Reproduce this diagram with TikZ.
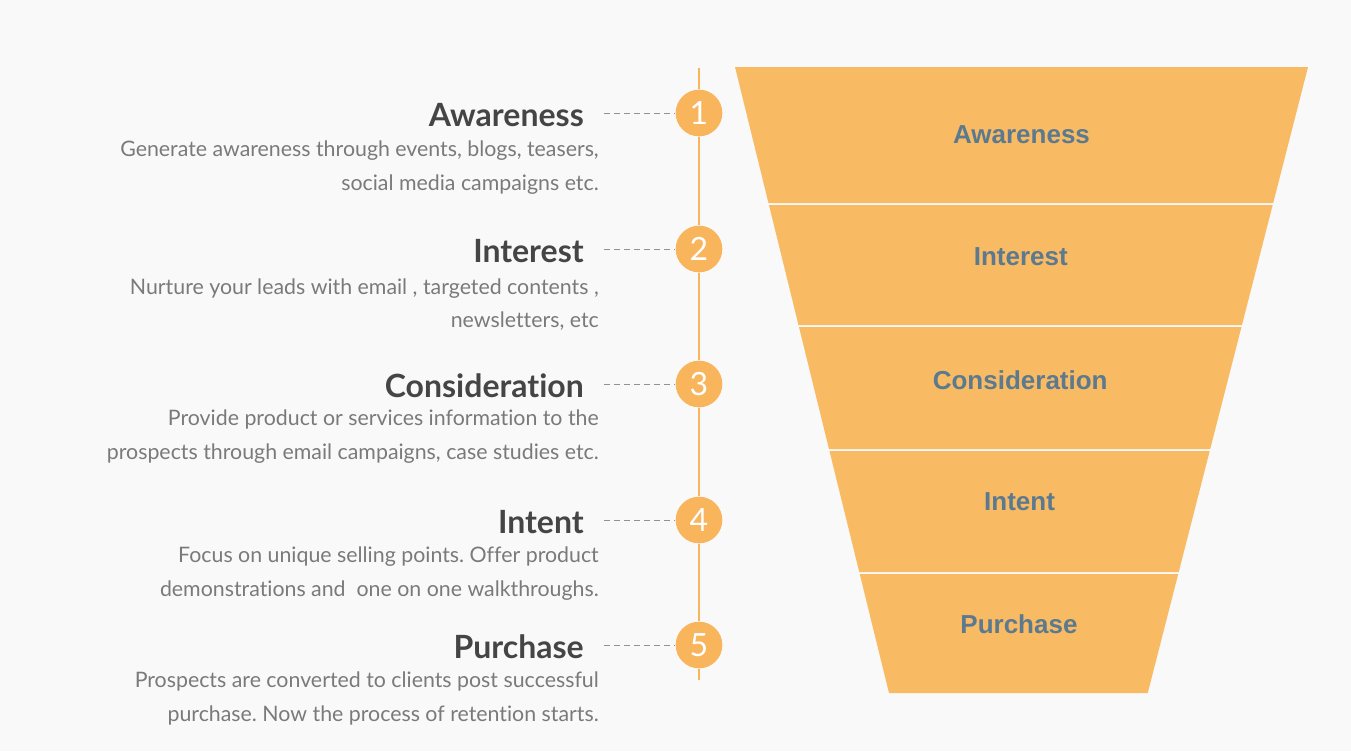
\documentclass[tikz,border=0pt]{standalone}
\usepackage{fontspec}
\setmainfont{Lato}[Ligatures=NoCommon]
\newfontfamily\funnelfont{Liberation Sans}
\usetikzlibrary{positioning}
\definecolor{bgGray}{HTML}{F9F9F9}
\definecolor{fOrange}{HTML}{F9BA64}
\definecolor{cOrange}{HTML}{F8B55C}
\definecolor{tDark}{HTML}{454545}
\definecolor{tGray}{HTML}{7A7A7A}
\definecolor{fSlate}{HTML}{5B7A8F}
\frenchspacing

\begin{document}
\begin{tikzpicture}[x=0.75pt, y=-0.75pt,
    stagetitle/.style={anchor=east, inner sep=0pt, text=tDark, font=\fontsize{24}{28}\selectfont\bfseries},
    stagedesc/.style={anchor=base east, inner sep=0pt, text=tGray, font=\fontsize{16}{18}\selectfont},
    numcirc/.style={circle, fill=cOrange, minimum size=35pt, inner sep=0pt, text=white, font=\fontsize{24}{26}\selectfont},
    funnellbl/.style={text=fSlate, font=\funnelfont\fontsize{19.5}{22}\selectfont\bfseries},
    dashline/.style={gray!85, line width=0.75pt, dash pattern=on 4.5pt off 3pt},
    vline/.style={cOrange, line width=1.5pt}]
    \fill[bgGray] (0,0) rectangle (1351,751);
    \useasboundingbox (0,0) rectangle (1351,751);
    % funnel
    \foreach \lbl/\ya/\yb/\yl [count=\i] in {Awareness/67/203/135, Interest/205/325/257, Consideration/327/449/380, Intent/451/572/502, Purchase/574/693/624} {
      \pgfmathsetmacro\la{735+0.246*(\ya-67)}
      \pgfmathsetmacro\ra{1308-0.256*(\ya-67)}
      \pgfmathsetmacro\lb{735+0.246*(\yb-67)}
      \pgfmathsetmacro\rb{1308-0.256*(\yb-67)}
      \fill[fOrange] (\la,\ya) -- (\ra,\ya) -- (\rb,\yb) -- (\lb,\yb) -- cycle;
      \node[funnellbl] (f\i) at ({(\la+\ra)/2},\yl) {\lbl};
    }
    % stages
    \foreach \ttl/\yc/\ya/\yb/\da/\db [count=\i] in {
        Awareness/113/156/190/{Generate awareness through events, blogs, teasers,}/{social media campaigns etc.},
        Interest/249/294/327/{Nurture your leads with email , targeted contents ,}/{newsletters, etc},
        Consideration/384/425/459/{Provide product or services information to the}/{prospects through email campaigns, case studies etc.},
        Intent/520/562/596/{Focus on unique selling points. Offer product}/{demonstrations and\ \ one on one walkthroughs.},
        Purchase/645/687/721/{Prospects are converted to clients post successful}/{purchase. Now the process of retention starts.}} {
      \node[numcirc] (c\i) at (699,\yc) {\i};
      \node[stagetitle] (t\i) at (584,\yc+2) {\ttl};
      \node[stagedesc] (d\i a) at (599,\ya) {\da};
      \node[stagedesc] (d\i b) at (599,\yb) {\db};
      \draw[dashline] ([xshift=15pt,yshift=1.5pt]t\i.east) -- (c\i);
    }
    % timeline
    \coordinate (ltop) at (699,68);
    \coordinate (lbot) at (699,680);
    \draw[vline] (ltop) -- (c1) (c1) -- (c2) (c2) -- (c3) (c3) -- (c4) (c4) -- (c5) (c5) -- (lbot);
\end{tikzpicture}
\end{document}
